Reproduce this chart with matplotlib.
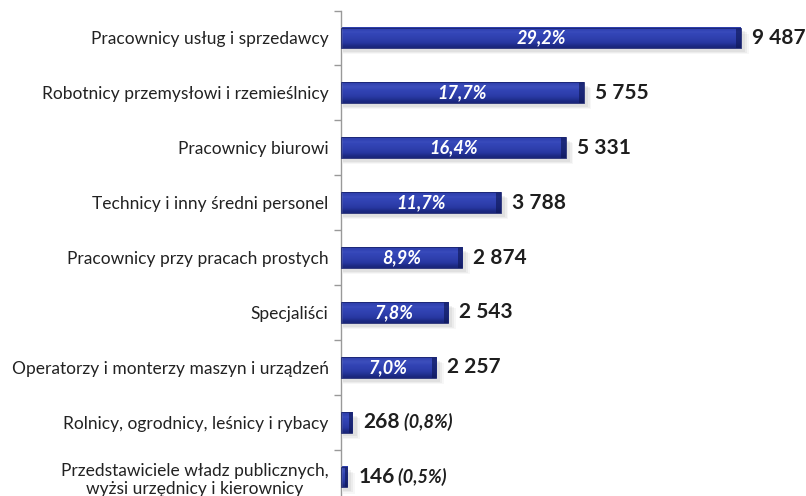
import matplotlib.pyplot as plt
import numpy as np
from matplotlib.ticker import FixedLocator, NullLocator
from matplotlib.colors import LinearSegmentedColormap

plt.rcParams['font.family'] = ['Lato', 'DejaVu Sans']

# data
categories = ['Pracownicy usług i sprzedawcy',
              'Robotnicy przemysłowi i rzemieślnicy',
              'Pracownicy biurowi',
              'Technicy i inny średni personel',
              'Pracownicy przy pracach prostych',
              'Specjaliści',
              'Operatorzy i monterzy maszyn i urządzeń',
              'Rolnicy, ogrodnicy, leśnicy i rybacy',
              'Przedstawiciele władz publicznych,\nwyżsi urzędnicy i kierownicy']
values = [9487, 5755, 5331, 3788, 2874, 2543, 2257, 268, 146]
value_labels = ['9 487', '5 755', '5 331', '3 788', '2 874', '2 543', '2 257', '268', '146']
pct_labels = ['29,2%', '17,7%', '16,4%', '11,7%', '8,9%', '7,8%', '7,0%', '0,8%', '0,5%']

fig = plt.figure(figsize=(8.06, 4.96), dpi=100)
ax = fig.add_axes([341/806, 1 - 504.5/496, 465/806, 494/496])

n = len(categories)
y = np.arange(n)
h = 0.38
xmax = 11029
ax.set_xlim(0, xmax)
ax.set_ylim(n - 0.5, -0.5)

# gradient for bars (light top, dark bottom)
grad = np.array([[0.5], [0.75], [0.62], [0.55], [0.45], [0.3], [0.12]])
cmap = LinearSegmentedColormap.from_list('bl', ['#121c66', '#2737a0', '#3446b8', '#6a7ad6'])

for i, v in enumerate(values):
    # soft shadow
    for k, a in enumerate([0.10, 0.08, 0.06]):
        ax.barh(y[i] + 0.07 + 0.02 * k, v + 60 + 40 * k, height=h, left=40,
                color='#777777', alpha=a, zorder=1, linewidth=0)
    ax.imshow(grad, cmap=cmap, vmin=0, vmax=1, aspect='auto', interpolation='bicubic',
              extent=(0, v, y[i] + h/2, y[i] - h/2), zorder=2)
    # darker right cap
    cap = min(110, v * 0.3)
    ax.barh(y[i], cap, height=h, left=v - cap, color='#0f1858', alpha=0.65, zorder=3, linewidth=0)
    ax.barh(y[i], v, height=h, fill=False, edgecolor='#1a2470', linewidth=0.6, zorder=4)

for i, v in enumerate(values):
    if i < 7:
        ax.text(v / 2, y[i], pct_labels[i], color='white', fontsize=13, fontweight='bold',
                fontstyle='italic', ha='center', va='center', zorder=5)
        ax.text(v + 260, y[i], value_labels[i], color='#1e1e1e', fontsize=15, fontweight='bold',
                ha='left', va='center', zorder=5)
    else:
        t = ax.text(v + 260, y[i], value_labels[i], color='#1e1e1e', fontsize=15, fontweight='bold',
                    ha='left', va='center', zorder=5)
        ax.annotate(' (' + pct_labels[i] + ')', xycoords=t, xy=(1, 0.5), ha='left', va='center',
                    color='#1e1e1e', fontsize=13, fontweight='bold', fontstyle='italic', zorder=5)

ax.set_yticks(y)
ax.set_yticklabels(categories, fontsize=12.5, color='#222222', linespacing=1.15)
ax.yaxis.set_minor_locator(FixedLocator(np.arange(-0.5, n, 1.0)))
ax.tick_params(axis='y', which='major', length=0, pad=9)
ax.tick_params(axis='y', which='minor', length=5, color='#999999', width=1)
for lab in ax.get_yticklabels():
    lab.set_multialignment('center')
ax.xaxis.set_major_locator(NullLocator())

for s in ['top', 'right', 'bottom']:
    ax.spines[s].set_visible(False)
ax.spines['left'].set_color('#999999')
ax.spines['left'].set_linewidth(1)

fig.savefig('out.png', dpi=100)
